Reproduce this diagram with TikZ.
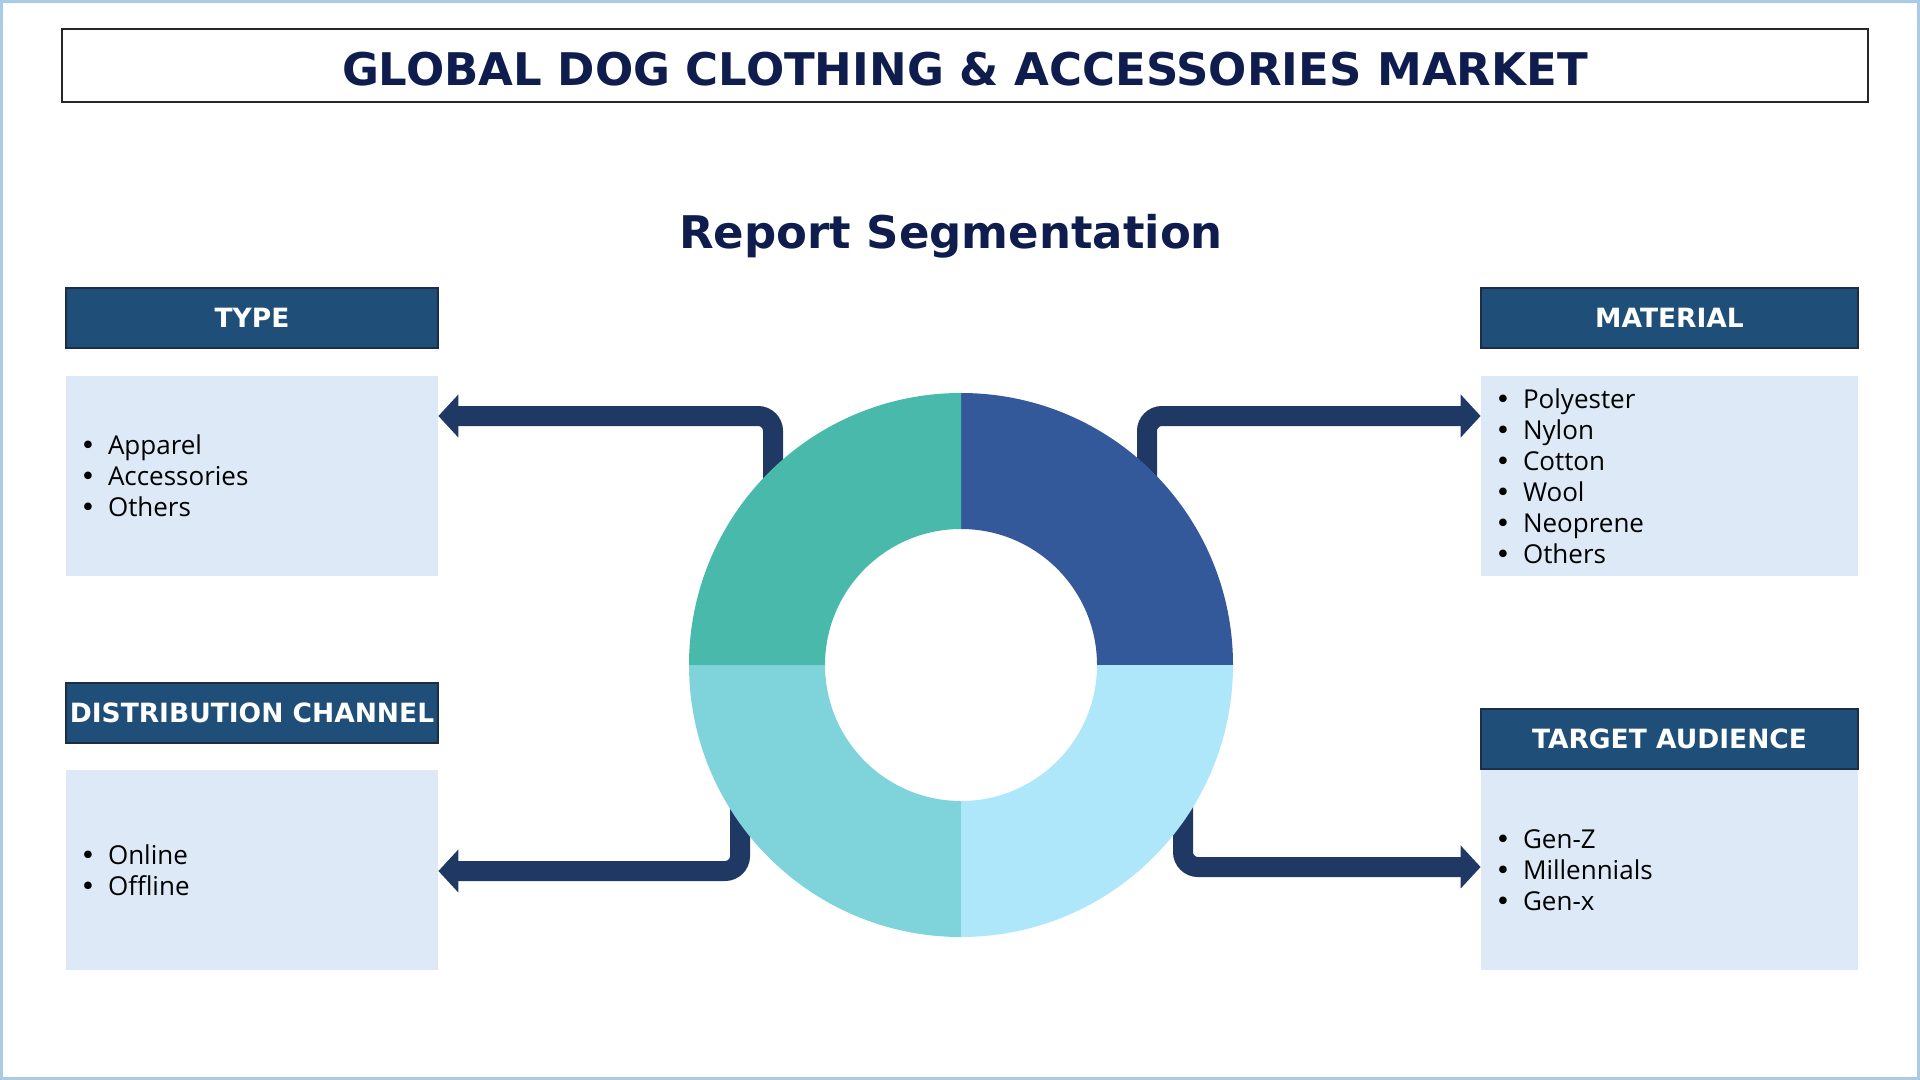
\documentclass[tikz,border=0pt]{standalone}
\usepackage{fontspec}
\setmainfont{Open Sans}
\newfontfamily\headfont{DejaVu Sans}
\usetikzlibrary{arrows.meta, positioning}
\definecolor{titlecolor}{HTML}{0E1D4D}
\definecolor{headfill}{HTML}{1F4E79}
\definecolor{headborder}{HTML}{1B2E45}
\definecolor{listfill}{HTML}{DDE9F6}
\definecolor{arrowcolor}{HTML}{1F3864}
\definecolor{framecolor}{HTML}{A9CBE6}
\definecolor{segblue}{HTML}{34599A}
\definecolor{segteal}{HTML}{48B9AA}
\definecolor{segaqua}{HTML}{7FD3DA}
\definecolor{segsky}{HTML}{AEE6FA}
\tikzset{
    head/.style={rectangle, draw=headborder, line width=0.8pt, fill=headfill, text=white,
        minimum width=186pt, minimum height=30pt, inner sep=0pt,
        font=\headfont\bfseries\fontsize{13.25}{16}\selectfont},
    listbox/.style={rectangle, fill=listfill, minimum height=100pt, text width=176pt,
        inner xsep=5pt, inner ysep=0pt, align=left, font=\fontsize{13}{15.5}\selectfont},
    arrow/.style={draw=arrowcolor, line width=10pt, rounded corners=7.5pt,
        -{Triangle[length=10pt, width=21pt]}}
}
\newcommand{\itm}[1]{\makebox[12pt][c]{\headfont •}\hspace{4pt}#1}

\begin{document}
\begin{tikzpicture}[x=0.5pt, y=0.5pt]
    \useasboundingbox (0,0) rectangle (1920,-1080);
    \draw[framecolor, line width=1.5pt] (1.5,-1.5) rectangle (1918.5,-1078.5);

    % Title
    \node[draw=black!85, line width=0.8pt, minimum width=903pt, minimum height=36.5pt, text=titlecolor,
        text height=20.4pt, text depth=0pt,
        font=\headfont\bfseries\fontsize{22.5}{26}\selectfont] (title) at (965,-65.5)
        {GLOBAL DOG CLOTHING \& ACCESSORIES MARKET};
    \node[anchor=base, text=titlecolor, font=\headfont\bfseries\fontsize{22.5}{26}\selectfont]
        (subtitle) at (951,-249) {Report Segmentation};

    % Left column
    \node[head] (typehead) at (252,-318) {TYPE};
    \node[listbox, below=13.5pt of typehead] (typebox) {\itm{Apparel}\\ \itm{Accessories}\\ \itm{Others}};
    \node[head] (disthead) at (252,-713) {DISTRIBUTION CHANNEL};
    \node[listbox, below=13pt of disthead] (distbox) {\itm{Online}\\ \itm{Offline}};

    % Right column
    \node[head, minimum width=188.5pt] (mathead) at (1669.5,-318) {MATERIAL};
    \node[listbox, text width=178.5pt, below=13.5pt of mathead] (matbox)
        {\itm{Polyester}\\ \itm{Nylon}\\ \itm{Cotton}\\ \itm{Wool}\\ \itm{Neoprene}\\ \itm{Others}};
    \node[head, minimum width=188.5pt] (audhead) at (1669.5,-739) {TARGET AUDIENCE};
    \node[listbox, text width=178.5pt, below=0pt of audhead] (audbox)
        {\itm{Gen-Z}\\ \itm{Millennials}\\ \itm{Gen-x}};

    % Connectors
    \coordinate (typefrom) at (773,-500);
    \coordinate (typeturn) at (773,-416);
    \coordinate (matfrom) at (1147,-500);
    \coordinate (matturn) at (1147,-416);
    \coordinate (distfrom) at (740,-780);
    \coordinate (distturn) at (740,-871);
    \coordinate (audfrom) at (1183,-780);
    \coordinate (audturn) at (1183,-867);
    \draw[arrow] (typefrom) -- (typeturn) -- (typeturn -| typebox.east);
    \draw[arrow] (matfrom) -- (matturn) -- (matturn -| matbox.west);
    \draw[arrow] (distfrom) -- (distturn) -- (distturn -| distbox.east);
    \draw[arrow] (audfrom) -- (audturn) -- (audturn -| audbox.west);

    % Donut
    \coordinate (hub) at (961,-665);
    \foreach \ang/\col in {0/segblue, 90/segteal, 180/segaqua, 270/segsky}
        \fill[\col] ([shift={(\ang:136pt)}]hub) arc[start angle=\ang, delta angle=90, radius=136pt]
            -- ([shift={(\ang+90:68pt)}]hub) arc[start angle=\ang+90, delta angle=-90, radius=68pt] -- cycle;
\end{tikzpicture}
\end{document}
